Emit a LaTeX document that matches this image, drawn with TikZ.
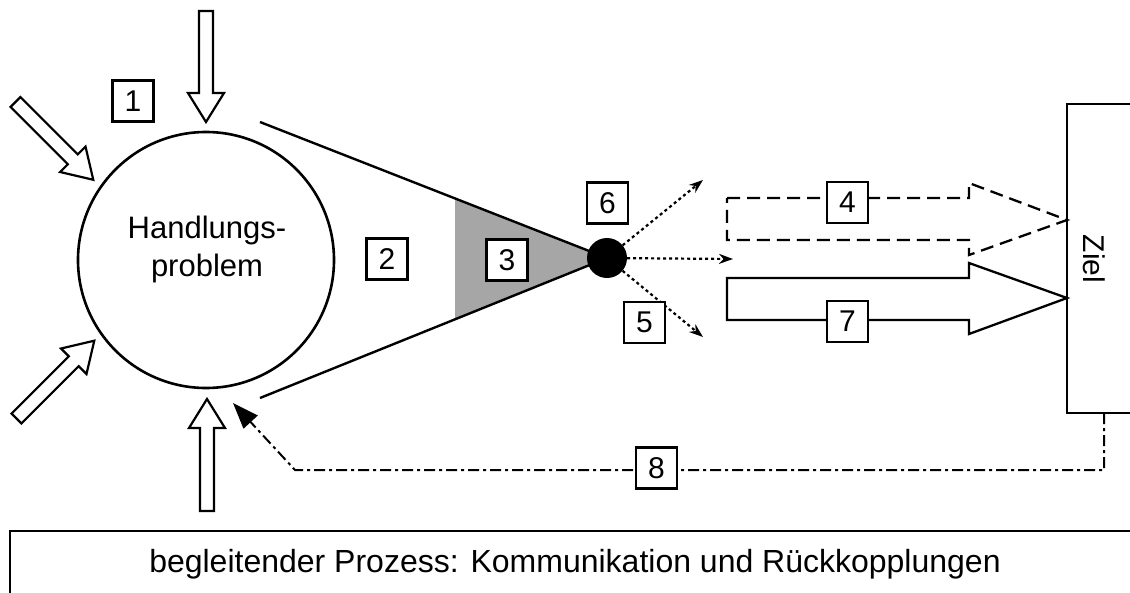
\documentclass[tikz,border=0pt]{standalone}
\usepackage{fontspec}
\setmainfont{Liberation Sans}
\usetikzlibrary{arrows.meta}
\begin{document}
\begin{tikzpicture}[x=1pt,y=-1pt,
  numbox/.style={draw,line width=2.2pt,fill=white,minimum size=41pt,inner sep=0pt,font=\fontsize{30}{30}\selectfont},
  inarrow/.style={draw,line width=2.2pt,fill=white,line join=miter},
  cone/.style={line width=2.4pt},
  dotarrow/.style={line width=2.2pt,dash pattern=on 3pt off 3pt,-{Stealth[length=14pt,width=10pt]}},
  bigarrow/.style={line width=2.3pt,line join=miter},
  fbline/.style={line width=2pt,dash pattern=on 11pt off 4pt on 3pt off 4pt},
]
\useasboundingbox (0,0) rectangle (1130,592);
\newcommand{\blockarrow}[1]{\draw[inarrow] (0,-7) -- ({#1-29},-7) -- ({#1-29},-18) -- (#1,0) -- ({#1-29},18) -- ({#1-29},7) -- (0,7) -- cycle;}

% circle
\node[draw,circle,line width=2.6pt,minimum size=256pt,inner sep=0pt] (prob) at (206,260) {};
\node[align=center,font=\fontsize{31}{38}\selectfont] (probtext) at (207,249) {Handlungs-\\problem};

% input arrows
\draw[inarrow] (199,11) -- (199,93) -- (188,93) -- (206,122) -- (224,93) -- (213,93) -- (213,11) -- cycle;
\draw[inarrow] (200,511) -- (200,428) -- (189,428) -- (207,399) -- (225,428) -- (214,428) -- (214,511) -- cycle;
\begin{scope}[shift={(15.5,102)},rotate=-45]\blockarrow{110}\end{scope}
\begin{scope}[shift={(16.5,418.5)},rotate=45]\blockarrow{110}\end{scope}

% cone
\coordinate (dc) at (607,258);
\coordinate (ctop) at (260,122);
\coordinate (cbot) at (260,398);
\fill[black!35] (455,199) -- (dc) -- (455,319) -- cycle;
\draw[cone] (ctop) -- (dc);
\draw[cone] (cbot) -- (dc);
\node[circle,fill=black,minimum size=40pt,inner sep=0pt] (dot) at (dc) {};

% dotted arrows
\coordinate (e6) at (703,180);
\coordinate (em) at (733,259);
\coordinate (e5) at (703,337);
\draw[dotarrow] (dot) -- (e6);
\draw[dotarrow] (dot) -- (em);
\draw[dotarrow] (dot) -- (e5);

% arrow 4 (dashed)
\draw[bigarrow,dash pattern=on 13pt off 7pt] (727,198) -- (969,198) -- (969,183) -- (1067,220) -- (969,255) -- (969,240) -- (727,240) -- cycle;
% arrow 7
\draw[bigarrow] (727,278) -- (969,278) -- (969,263) -- (1067,298) -- (969,334) -- (969,320) -- (727,320) -- cycle;

% Ziel
\draw[line width=2.6pt] (1140,104) -- (1067,104) -- (1067,413) -- (1140,413);
\node[rotate=-90,font=\fontsize{30}{30}\selectfont] (ziel) at (1094,259) {Ziel};
\coordinate (zb) at (1104,413);

% feedback 8
\coordinate (f1) at (1104,470);
\coordinate (f2) at (295,470);
\coordinate (ftip) at (233,403);
\draw[fbline,-{Triangle[length=26pt,width=19pt]}] (zb) -- (f1) -- (f2) -- (ftip);

% number boxes
\node[numbox] (n1) at (133,101) {1};
\node[numbox] (n2) at (387,259) {2};
\node[numbox] (n3) at (507,260) {3};
\node[numbox] (n4) at (847.5,202.5) {4};
\node[numbox] (n5) at (644.5,322.5) {5};
\node[numbox] (n6) at (607.5,203) {6};
\node[numbox] (n7) at (847.5,321.5) {7};
\node[numbox] (n8) at (656.5,468) {8};

% bottom box
\draw[line width=2.4pt] (1140,531) -- (10,531) -- (10,600);
\node[anchor=base,font=\fontsize{32}{32}\selectfont] (proc) at (575,572) {begleitender Prozess: Kommunikation und Rückkopplungen};
\end{tikzpicture}
\end{document}
